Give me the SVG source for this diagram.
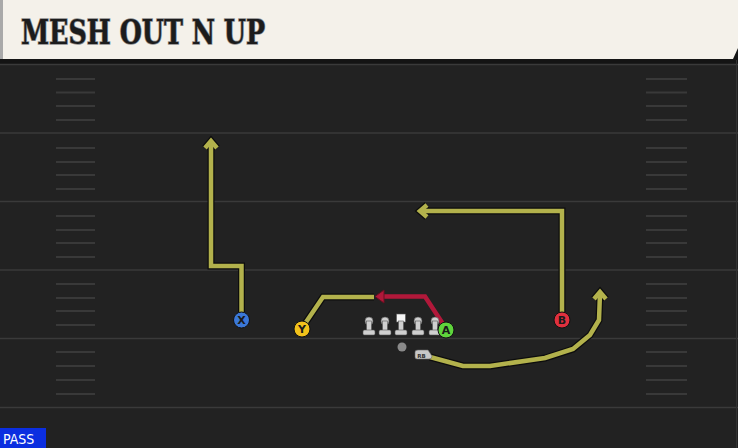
<svg xmlns="http://www.w3.org/2000/svg" xmlns:xlink="http://www.w3.org/1999/xlink" width="738" height="448" viewBox="0 0 738 448">
<style>
.yl{stroke:#3a3a3a;stroke-width:1.3}
.hash{stroke:#393939;stroke-width:2}
.out{fill:none;stroke:#0d0d0d;stroke-width:7;stroke-linejoin:miter;stroke-linecap:butt}
.rte{fill:none;stroke:#b3b24c;stroke-width:4.5;stroke-linejoin:miter;stroke-linecap:butt}
.red{fill:none;stroke:#b1183a;stroke-width:4.5;stroke-linejoin:miter}
.lab{font-family:"DejaVu Sans","Liberation Sans",sans-serif;font-weight:bold;font-size:11px;fill:#1a1a1a;text-anchor:middle}
.ol{fill:#cfcfcf;stroke:#555;stroke-width:0.6}
</style>
<defs>
<path id="rX" d="M241.5,312 V266 H211 V142"/>
<path id="aX" d="M205,148 L211,141 L217,148"/>
<path id="rB" d="M562,312 V211 H421"/>
<path id="aB" d="M427,205 L420,211 L427,217"/>
<path id="rY" d="M302,328 L323,297 H374"/>
<path id="rR" d="M430,357 L463,366 L490,366 L545,358 L573,349 L590,335 L599,320 L600,293"/>
<path id="aR" d="M594,299 L600,292 L606,299"/>
<g id="lm"><circle cx="0" cy="0" r="4" class="ol"/><rect x="-2.5" y="0" width="5" height="10" class="ol"/><rect x="-6" y="9" width="12" height="5" rx="1.5" class="ol"/></g>
</defs>
<rect width="738" height="448" fill="#222"/>
<g id="title">
<rect x="0" y="0" width="738" height="60" fill="#151515"/>
<path d="M0,0 H738 V48 L733,59 H0 Z" fill="#f4f1ea"/>
<rect x="0" y="0" width="3" height="59" fill="#a9a9a9"/>
<text x="21" y="44" textLength="244" lengthAdjust="spacingAndGlyphs" font-family="'DejaVu Serif Condensed','DejaVu Serif',serif" font-weight="bold" font-size="33" fill="#1c1c1c" stroke="#8d8d8d" stroke-width="1.5" paint-order="stroke">MESH OUT N UP</text>
</g>
<g id="field">
<rect x="0" y="60" width="738" height="4" fill="#141414"/>
<line x1="0" y1="64.5" x2="738" y2="64.5" class="yl"/>
<line x1="0" y1="133" x2="738" y2="133" class="yl"/>
<line x1="0" y1="201.5" x2="738" y2="201.5" class="yl"/>
<line x1="0" y1="270" x2="738" y2="270" class="yl"/>
<line x1="0" y1="338.5" x2="738" y2="338.5" class="yl"/>
<line x1="0" y1="407.5" x2="738" y2="407.5" class="yl"/>
<line x1="736.5" y1="60" x2="736.5" y2="448" stroke="#333" stroke-width="1"/>
<g class="hash">
<path d="M56,79H95M56,92.5H95M56,106H95M56,120H95M56,148H95M56,162H95M56,175H95M56,189H95M56,216H95M56,230H95M56,243H95M56,257H95M56,284H95M56,298H95M56,311H95M56,325H95M56,352H95M56,366H95M56,380H95M56,394H95"/>
<path d="M646,79H687M646,92.5H687M646,106H687M646,120H687M646,148H687M646,162H687M646,175H687M646,189H687M646,216H687M646,230H687M646,243H687M646,257H687M646,284H687M646,298H687M646,311H687M646,325H687M646,352H687M646,366H687M646,380H687M646,394H687"/>
</g>
</g>
<g id="connectors">
<use xlink:href="#rX" class="out"/><use xlink:href="#aX" class="out"/>
<use xlink:href="#rB" class="out"/><use xlink:href="#aB" class="out"/>
<use xlink:href="#rY" class="out"/>
<use xlink:href="#rR" class="out"/><use xlink:href="#aR" class="out"/>
<use xlink:href="#rX" class="rte"/><use xlink:href="#aX" class="rte"/>
<use xlink:href="#rB" class="rte"/><use xlink:href="#aB" class="rte"/>
<use xlink:href="#rY" class="rte"/>
<use xlink:href="#rR" class="rte"/><use xlink:href="#aR" class="rte"/>
<path d="M443,324 L425,296.5 H383" class="red"/>
<path d="M384,290 L375,296.5 L384,303 Z" fill="#b1183a" stroke="#6a0f20" stroke-width="1"/>
</g>
<g id="line">
<use xlink:href="#lm" x="369" y="321"/>
<use xlink:href="#lm" x="385" y="321"/>
<g transform="translate(401,321)"><rect x="-4.5" y="-7" width="9" height="8" fill="#f5f5f5" stroke="#555" stroke-width="0.6"/><rect x="-2.5" y="0" width="5" height="10" class="ol"/><rect x="-6" y="9" width="12" height="5" rx="1.5" class="ol"/></g>
<use xlink:href="#lm" x="418" y="321"/>
<use xlink:href="#lm" x="435" y="321"/>
</g>
<g id="qb"><circle cx="402" cy="347" r="4.5" fill="#8a8a8a"/></g>
<g id="rb"><path d="M415,352 Q415,350 418,350 H428 L432,356 Q432,359 429,359 H417 Q415,359 415,357 Z" fill="#c8c8c8" stroke="#666" stroke-width="0.6"/><text x="421.5" y="357.5" font-family="'DejaVu Sans',sans-serif" font-weight="bold" font-size="5.5" fill="#333" text-anchor="middle">RB</text></g>
<g id="X"><circle cx="241.5" cy="320" r="8" fill="#3b78d8" stroke="#111" stroke-width="1"/><text x="241.5" y="324" class="lab">X</text></g>
<g id="Y"><circle cx="302" cy="329" r="8" fill="#f2c21b" stroke="#111" stroke-width="1"/><text x="302" y="333" class="lab">Y</text></g>
<g id="A"><circle cx="446" cy="330" r="8" fill="#5fd43c" stroke="#111" stroke-width="1"/><text x="446" y="334" class="lab">A</text></g>
<g id="B"><circle cx="562" cy="320" r="8" fill="#e0303e" stroke="#111" stroke-width="1"/><text x="562" y="324" class="lab">B</text></g>
<g id="pass"><rect x="0" y="428" width="46" height="20" fill="#0b2ee0"/><text x="3" y="443.5" font-family="'DejaVu Sans Condensed','DejaVu Sans',sans-serif" font-size="14" fill="#fff">PASS</text></g>
</svg>
